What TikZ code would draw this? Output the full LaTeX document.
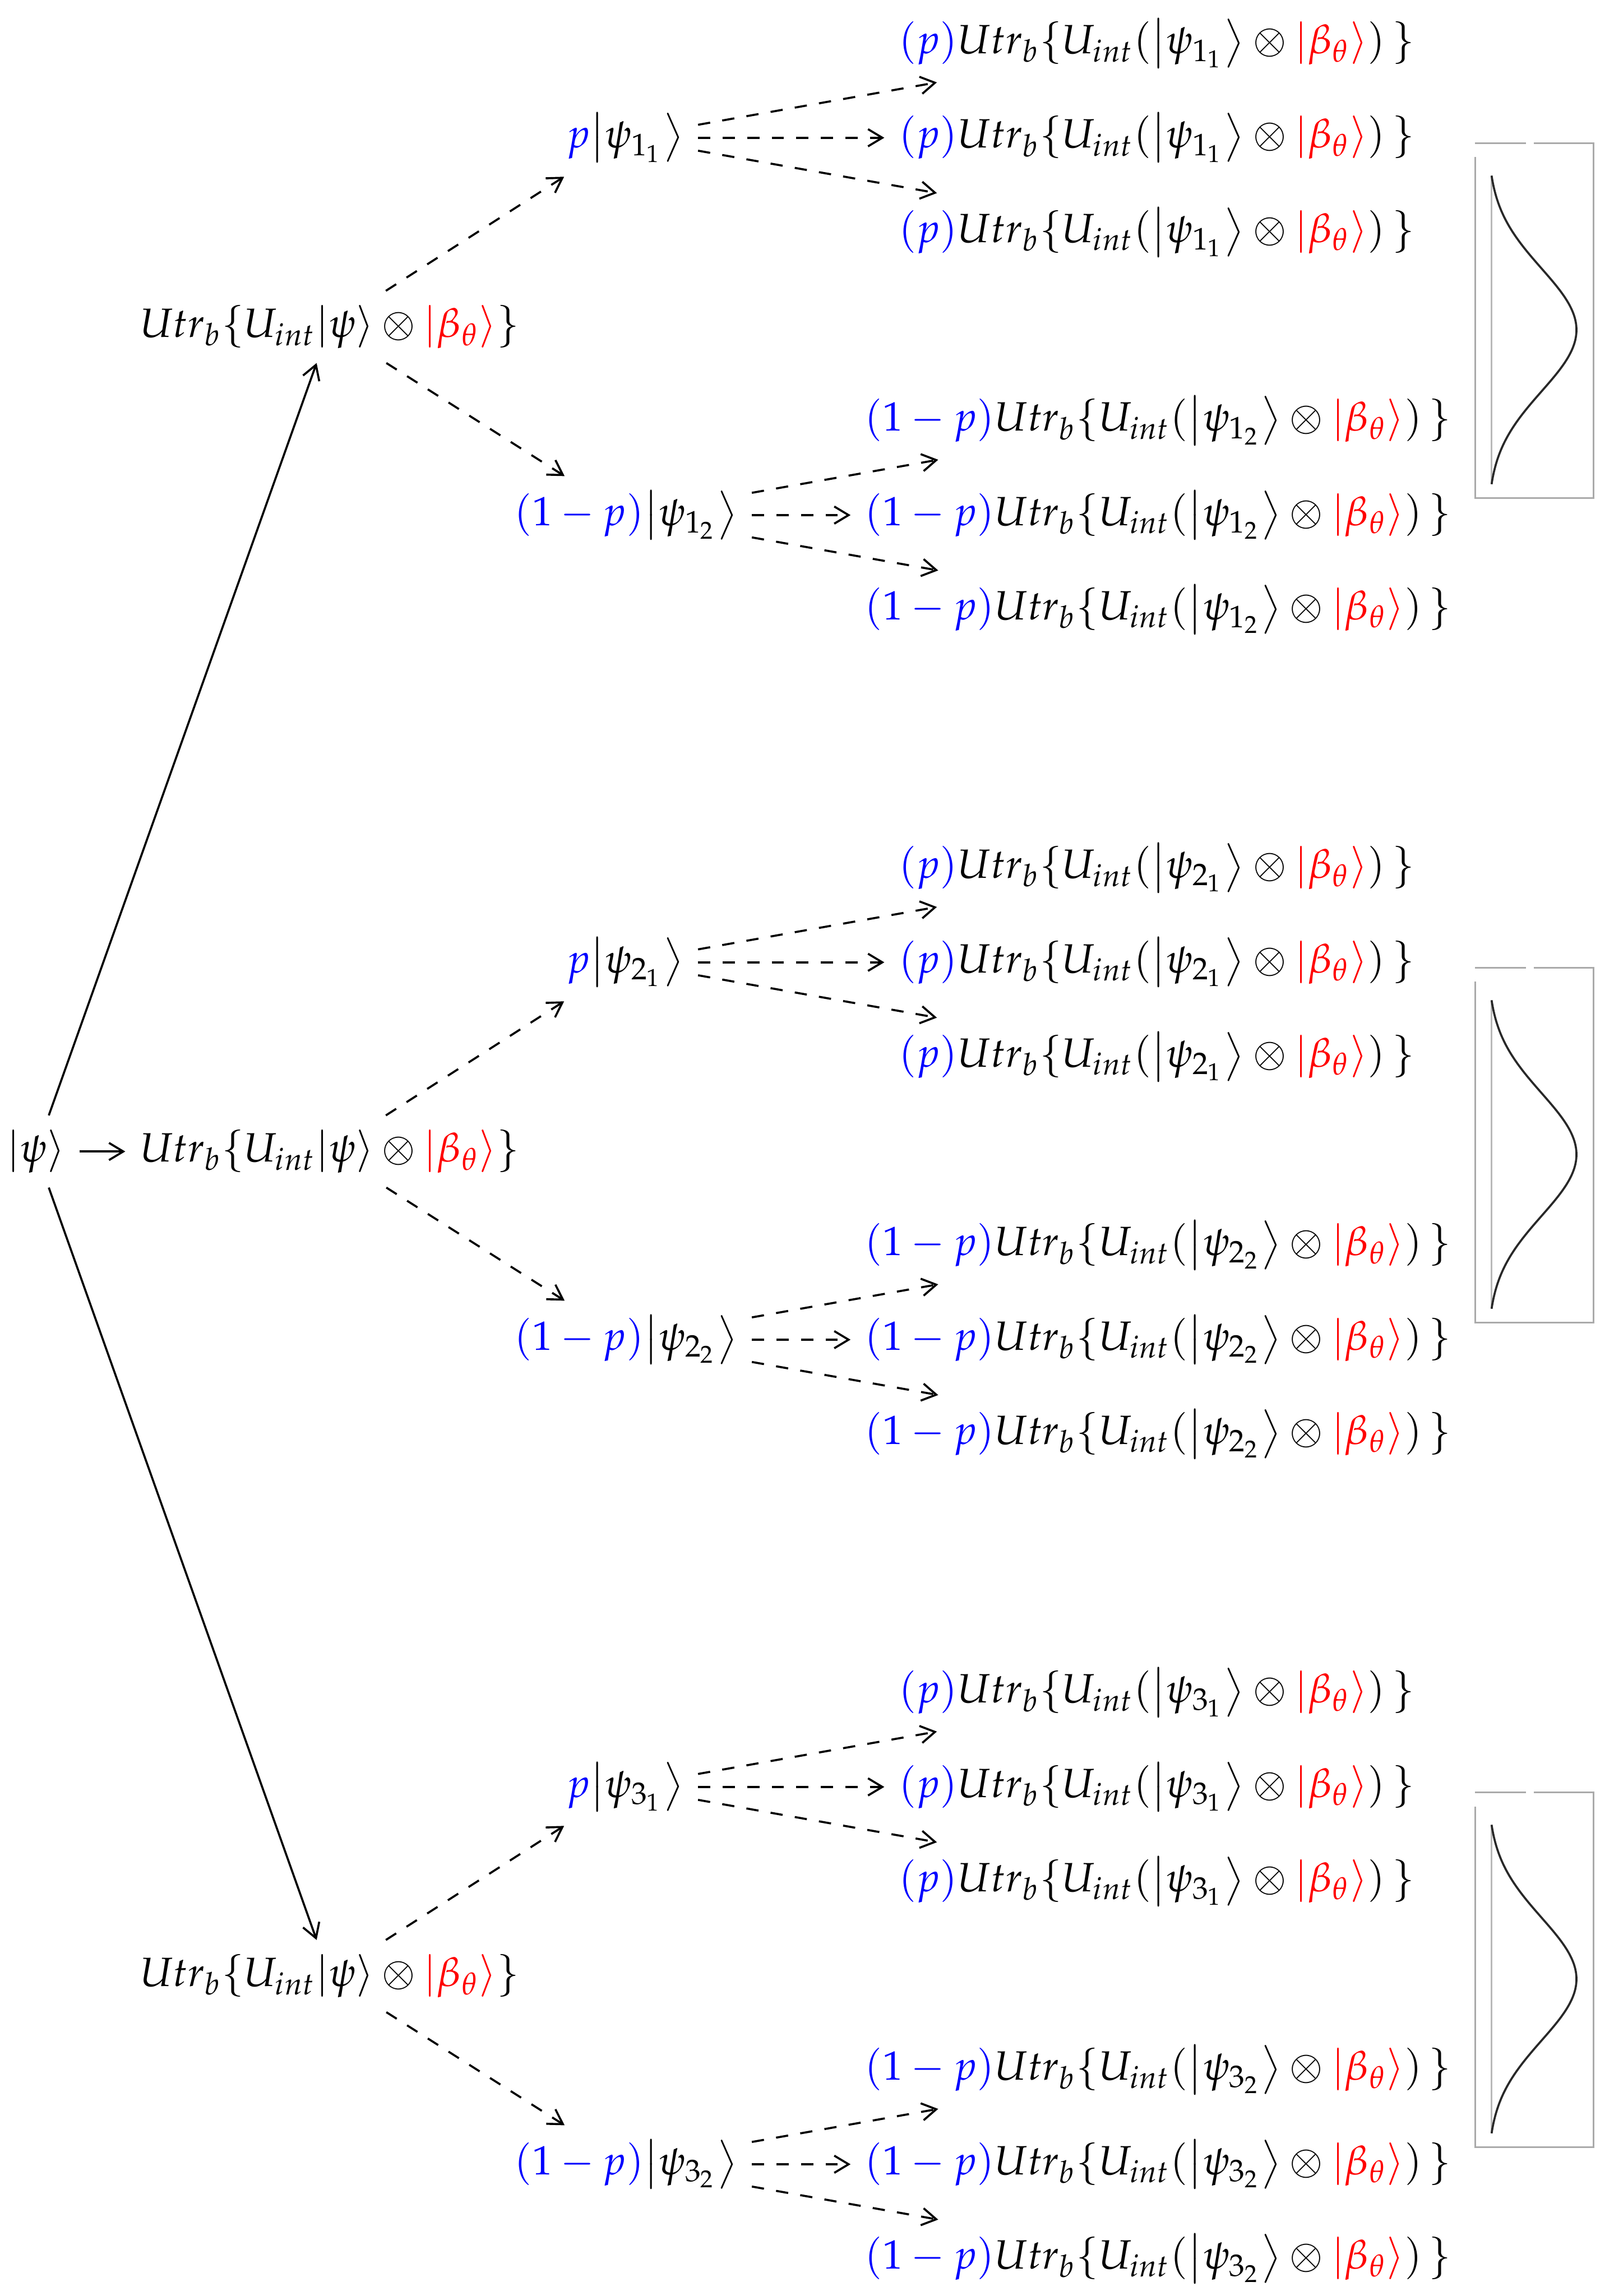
\documentclass[tikz,border=0pt]{standalone}
\usepackage{mathpazo}
\usepackage{xcolor}
\usetikzlibrary{arrows.meta}
\definecolor{boxgray}{RGB}{170,170,170}
\definecolor{axisgray}{RGB}{185,185,185}
\definecolor{curvegray}{RGB}{40,40,40}
\tikzset{
  tnode/.style={inner sep=3.33pt},
  tip/.style={-{Straight Barb[length=3.5pt,width=4.2pt]}, line width=0.5pt},
  solidarrow/.style={tip},
  dasharrow/.style={tip, dashed},
  gbox/.style={draw=boxgray, line width=0.45pt},
  gaxis/.style={draw=axisgray, line width=0.35pt},
  gcurve/.style={draw=curvegray, line width=0.5pt},
}
\begin{document}
\begin{tikzpicture}[x=1.22pt,y=1.22pt]
\useasboundingbox (0,0) rectangle (323.3,-460);
\node[tnode] (root) at (7.2,-230.7) {$|\psi\rangle$};
\foreach \g/\y in {1/-65.5, 2/-230.7, 3/-395.9} {
  \node[tnode] (L\g) at (66.0,\y) {$Utr_b\{U_{int}|\psi\rangle\otimes\textcolor{red}{|\beta_\theta\rangle}\}$};
  \node[tnode] (A\g) at (125.2,\y+37.9) {$\textcolor{blue}{p}{\left|\psi_{\g_1}\right\rangle}$};
  \node[tnode] (B\g) at (125.4,\y-37.7) {$\textcolor{blue}{(1-p)}{\left|\psi_{\g_2}\right\rangle}$};
  \foreach \k/\d in {1/18.9, 2/0, 3/-18.9} {
    \node[tnode] (A\g-\k) at (231.7,\y+37.9+\d) {$\textcolor{blue}{(p)}Utr_b\{U_{int}({\left|\psi_{\g_1}\right\rangle}\otimes\textcolor{red}{|\beta_\theta\rangle})\,\}$};
    \node[tnode] (B\g-\k) at (232.0,\y-37.7+\d) {$\textcolor{blue}{(1-p)}Utr_b\{U_{int}({\left|\psi_{\g_2}\right\rangle}\otimes\textcolor{red}{|\beta_\theta\rangle})\,\}$};
    \draw[dasharrow] (A\g) -- (A\g-\k);
    \draw[dasharrow] (B\g) -- (B\g-\k);
  }
  \draw[dasharrow] (L\g) -- (A\g);
  \draw[dasharrow] (L\g) -- (B\g);
  % Gaussian inset
  \draw[gbox] (295.5,\y+36.8) -- (305.7,\y+36.8);
  \draw[gbox] (307.3,\y+36.8) -- (319.2,\y+36.8) -- (319.2,\y-34.3) -- (295.5,\y-34.3) -- (295.5,\y+34.0);
  \draw[gaxis] (298.8,\y+30.3) -- (298.8,\y-31.5);
  \draw[gcurve] plot[domain=-30.9:30.9, samples=80, smooth]
    ({298.8 + 17.0*(exp(-(\x*\x)/(2*12.3*12.3)) - 0.0426)/(1-0.0426)}, {\y-0.6+\x});
}
\draw[solidarrow] (root) -- (L1);
\draw[solidarrow] (root) -- (L2);
\draw[solidarrow] (root) -- (L3);
\end{tikzpicture}
\end{document}
